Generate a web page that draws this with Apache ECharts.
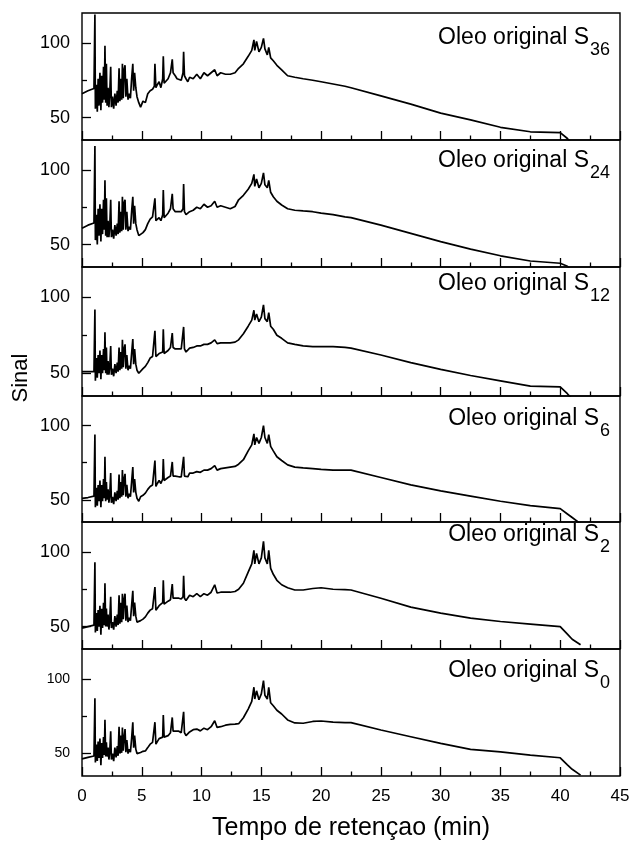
<!DOCTYPE html>
<html>
<head>
<meta charset="utf-8">
<title>Oleo original</title>
<script src="https://cdn.jsdelivr.net/npm/echarts@6/dist/echarts.min.js"></script>
<style>
  html, body { margin: 0; padding: 0; background: #fff; }
  #chart { width: 629px; height: 843px; }
</style>
</head>
<body>
<div id="chart"></div>
<script>
// tempo de retencao (min), comum aos 6 cromatogramas
const tempo = [
  0, 0.5, 1.0, 1.08, 1.12, 1.2, 1.28, 1.35, 1.42, 1.5,
  1.58, 1.65, 1.72, 1.8, 1.87, 1.92, 1.98, 2.04, 2.1, 2.18,
  2.25, 2.32, 2.4, 2.46, 2.55, 2.65, 2.75, 2.85, 2.95, 3.02,
  3.1, 3.17, 3.25, 3.32, 3.38, 3.45, 3.52, 3.6, 3.67, 3.75,
  3.85, 3.95, 4.05, 4.15, 4.25, 4.32, 4.4, 4.5, 4.6, 4.75,
  4.9, 5.1, 5.3, 5.5, 5.7, 5.9, 6.05, 6.1, 6.18, 6.3,
  6.45, 6.6, 6.75, 6.8, 6.87, 7.0, 7.2, 7.4, 7.55, 7.62,
  7.8, 7.95, 8.1, 8.3, 8.45, 8.5, 8.57, 8.7, 8.85, 9.0,
  9.3, 9.6, 9.9, 10.2, 10.5, 10.8, 11.1, 11.3, 11.6, 12.0,
  12.4, 12.8, 13.1, 13.5, 13.9, 14.2, 14.38, 14.45, 14.6, 14.8,
  15.0, 15.18, 15.3, 15.5, 15.62, 15.78, 16.0, 16.3, 16.7, 17.2,
  17.8, 18.5, 19.3, 20.0, 21.0, 22.0, 22.5, 25.0, 27.5, 30.0,
  32.5, 35.0, 37.5, 40.0, 40.6, 41.0, 41.7
];

const sinalS36 = [
  66, 68, 69.5, 119, 56, 72, 54, 76, 58, 80,
  55, 78, 60, 84, 62, 98, 60, 86, 58, 70,
  57, 66, 84, 57, 64, 56, 66, 58, 68, 60,
  83, 61, 76, 62, 86, 63, 82, 85, 64, 76,
  62, 66, 63, 76, 86, 68, 80, 70, 64, 60,
  57, 61, 60, 66, 68, 69, 71, 86, 70, 72,
  74, 70, 76, 91, 73, 72, 76, 80, 89, 80,
  78, 76, 77, 75, 80, 94, 78, 76, 74, 77,
  76, 79, 76, 80, 78, 80, 82, 78, 80, 79,
  79, 80, 83, 86, 91, 95, 102, 95, 101, 94,
  97, 103, 96, 92, 97, 90, 88, 85, 82, 78,
  77, 76, 75, 74, 72.5, 71, 70, 64.5, 59, 53,
  48.5, 43.5, 40.5, 40, 36, 32, null
];

const sinalS24 = [
  61, 63, 64.5, 116, 53, 70, 50, 74, 56, 77,
  52, 74, 57, 80, 60, 93, 56, 81, 55, 66,
  55, 62, 80, 55, 60, 54, 63, 56, 64, 57,
  79, 58, 72, 59, 82, 60, 78, 80, 60, 72,
  59, 62, 60, 72, 82, 64, 76, 64, 60, 56,
  55.5, 58, 60, 64, 67, 68.5, 69, 81, 66, 67,
  68, 66, 70, 86.5, 68, 68, 71, 74, 84, 74,
  72, 71, 72, 72, 74, 90.5, 72, 70, 69, 72,
  73, 75, 74, 77, 75, 76, 79, 75, 76, 75,
  74, 75.5, 80, 83, 87, 91, 97, 89, 94, 88,
  91, 98, 90, 88, 93, 85, 82, 79, 76.5, 74,
  73, 72.5, 72, 71, 70, 68.5, 68, 63, 57.5, 52,
  47, 42.5, 39, 37.5, 35.5, 32, null
];

const sinalS12 = [
  51, 51, 51, 92, 45, 60, 47, 62, 50, 65,
  46, 62, 50, 66, 52, 77, 50, 67, 49, 58,
  49, 54, 68, 49, 53, 48, 56, 50, 57, 51,
  67, 52, 64, 53, 72, 54, 66, 69, 53, 62,
  52, 55, 53, 63, 72.5, 56, 66, 56, 52, 50,
  51, 53, 54.5, 57, 60, 61, 62, 78, 61, 62,
  63, 62, 64, 79, 63, 63, 65, 67, 76.5, 67,
  66, 65, 66, 66, 67, 80.5, 66, 64, 64.5, 66.5,
  67, 68, 68, 69, 69, 70, 72, 69.5, 70, 70,
  70, 70.5, 72, 76, 81, 85, 91.5, 85, 89, 84,
  87, 95, 86, 84, 90, 81, 79, 75, 73, 70,
  69, 68, 67.5, 67.5, 67.5, 67, 66.5, 62, 57, 52.5,
  48.5, 45, 41.5, 41, 36.5, 33, null
];

const sinalS6 = [
  51, 51.5, 52.5, 94, 45, 58, 46, 60, 49, 63,
  45, 60, 49, 64, 51, 79, 49, 62, 50, 57,
  48, 53, 68, 48, 52, 47, 55, 49, 56, 50,
  67, 51, 62, 52, 70, 53, 64, 67.5, 52, 60,
  51, 54, 52, 62, 72, 55, 64, 55, 51, 49,
  52, 53, 54.5, 57, 59, 60, 61, 76.5, 59, 61,
  63, 61, 64, 77.5, 63, 63, 65, 66, 75.5, 66,
  66, 65, 65.5, 65.5, 66, 79, 66, 65, 65.5, 68,
  68, 69, 68.5, 70, 70, 71, 73, 70, 71, 71.5,
  72, 72.5, 74, 77, 83, 87, 94.5, 87, 92, 88,
  92, 100, 92, 88, 94, 86, 83, 79, 76.5, 73.5,
  72, 71.5, 71, 70.5, 70, 70, 70, 65, 60, 56,
  52.5, 49, 46, 44, 40.4, 38, 33.8
];

const sinalS2 = [
  49, 50, 51, 93, 46, 59, 47, 61, 50, 64,
  44.5, 62, 49, 66, 51, 79, 50, 62, 50, 58,
  48, 54, 70, 49, 53, 48, 57, 50, 58, 51,
  71, 52, 66, 53, 72, 55, 68, 72, 54, 64,
  53, 56, 54, 64, 74, 57, 66, 57, 53, 52,
  54, 55, 56.5, 59, 61, 62, 63, 76.5, 61, 62,
  64, 63, 66, 81, 65, 65, 67, 68, 78.5, 69,
  69, 68, 69, 68.5, 70, 84, 69, 67.5, 68, 71,
  70, 72, 70, 72, 71, 73, 78, 72.5, 73, 73,
  73, 73.5, 75, 79, 86.5, 92, 101, 92, 99, 92,
  96, 107, 96, 92, 101, 89, 85, 81, 78, 76,
  74.5, 74.5, 75.5, 76, 75, 74.7, 74.5, 69, 63, 59,
  55.7, 53.4, 51.7, 50, 45, 41.5, 37.8
];

const sinalS0 = [
  46.5, 47.5, 48.4, 87, 44, 56, 45, 58, 47, 60,
  42.2, 57, 47, 61, 49, 72.6, 48, 57.5, 48, 54,
  46, 51, 65, 46, 50, 45, 54, 47.5, 55, 48.5,
  68, 50, 62, 50.5, 67.5, 52, 60, 66.4, 51, 59,
  50, 53, 51, 60, 71, 54, 62, 53, 50, 49,
  50.7, 51.5, 51.8, 54, 56.3, 57.5, 58, 71, 56.3, 58,
  60, 59, 61, 75.8, 61, 60.8, 62, 64, 74.2, 65,
  65, 64, 65, 64, 65.2, 78, 64, 62, 61.4, 64.5,
  66, 66.4, 65.2, 67, 66, 68, 72, 67.5, 68, 69,
  69.5, 69.7, 70, 74, 79.8, 85, 94.4, 86.5, 92, 86,
  90, 98.9, 89, 86.5, 94.4, 84, 82, 79, 76.5, 72.5,
  70.5, 70.3, 71.5, 71.8, 71, 70.7, 70.7, 65.8, 61.3, 56.8,
  52.8, 51.2, 49, 47.2, 42.5, 39.5, 35.6
];

const amostras = ['36', '24', '12', '6', '2', '0'];
const sinais = [sinalS36, sinalS24, sinalS12, sinalS6, sinalS2, sinalS0];
const yTickLabels = [50, 100];
const yMinorTicks = [75];

// layout dos 6 paineis (px)
const fonte = '"Liberation Sans", Arial, sans-serif';
const topos = [13, 140, 267, 396, 522, 649, 776];
const titleTop = [26, 149.5, 272, 407, 523, 659];

let grid = [], xAxis = [], yAxis = [], series = [], title = [];

sinais.forEach((vals, i) => {
  const ultimo = i === sinais.length - 1;
  grid.push({
    left: 82, right: 9, top: topos[i], height: topos[i + 1] - topos[i],
    show: true, borderColor: '#000', borderWidth: 1.4,
    outerBoundsMode: 'none'
  });
  xAxis.push({
    gridIndex: i, type: 'value', min: 0, max: 45, interval: 5,
    axisLine: { show: false },
    axisTick: { inside: true, length: 9, lineStyle: { color: '#000', width: 1.3 } },
    minorTick: { show: true, splitNumber: 2, length: 4.5, lineStyle: { color: '#000', width: 1.3 } },
    splitLine: { show: false },
    minorSplitLine: { show: false },
    axisLabel: { show: ultimo, color: '#000', fontSize: 17, margin: 12, fontFamily: fonte },
    name: ultimo ? 'Tempo de retençao (min)' : '',
    nameLocation: 'middle', nameGap: 40,
    nameTextStyle: { fontSize: 25, color: '#000', fontFamily: fonte }
  });
  // eixo principal (50, 100)
  yAxis.push({
    gridIndex: i, type: 'value', min: 35, max: 120, position: 'left',
    axisLine: { show: false },
    splitLine: { show: false },
    axisTick: { inside: true, length: 9, customValues: yTickLabels, lineStyle: { color: '#000', width: 1.3 } },
    axisLabel: { customValues: yTickLabels, color: '#000', fontSize: ultimo ? 14 : 18, margin: 12, fontFamily: fonte }
  });
  // tick menor em 75
  yAxis.push({
    gridIndex: i, type: 'value', min: 35, max: 120, position: 'left',
    axisLine: { show: false },
    splitLine: { show: false },
    axisLabel: { show: false },
    axisTick: { inside: true, length: 5, customValues: yMinorTicks, lineStyle: { color: '#000', width: 1.3 } }
  });
  series.push({
    type: 'line', xAxisIndex: i, yAxisIndex: 2 * i,
    data: tempo.map((t, k) => [t, vals[k]]),
    symbol: 'none', clip: true, animation: false,
    lineStyle: { color: '#000', width: 1.7 }
  });
  title.push({
    right: 19, top: titleTop[i], padding: 0,
    text: '{a|Oleo original S}{b|' + amostras[i] + '}',
    textStyle: {
      fontWeight: 'normal',
      rich: {
        a: { fontSize: 23, lineHeight: 26, verticalAlign: 'top', color: '#000', fontFamily: fonte, fontWeight: 'normal' },
        b: { fontSize: 18, lineHeight: 18, padding: [15, 0, 0, 1], verticalAlign: 'top', color: '#000', fontFamily: fonte, fontWeight: 'normal' }
      }
    }
  });
});

let option = {
  backgroundColor: '#fff',
  animation: false,
  title: title,
  grid: grid,
  xAxis: xAxis,
  yAxis: yAxis,
  series: series,
  graphic: [{
    type: 'text', x: 21, y: 378, rotation: Math.PI / 2,
    style: {
      text: 'Sinal', font: '22px "Liberation Sans", Arial, sans-serif', fill: '#000',
      textAlign: 'center', textVerticalAlign: 'middle', align: 'center', verticalAlign: 'middle'
    }
  }]
};

let myChart = echarts.init(document.getElementById('chart'));
myChart.setOption(option);
</script>
</body>
</html>
